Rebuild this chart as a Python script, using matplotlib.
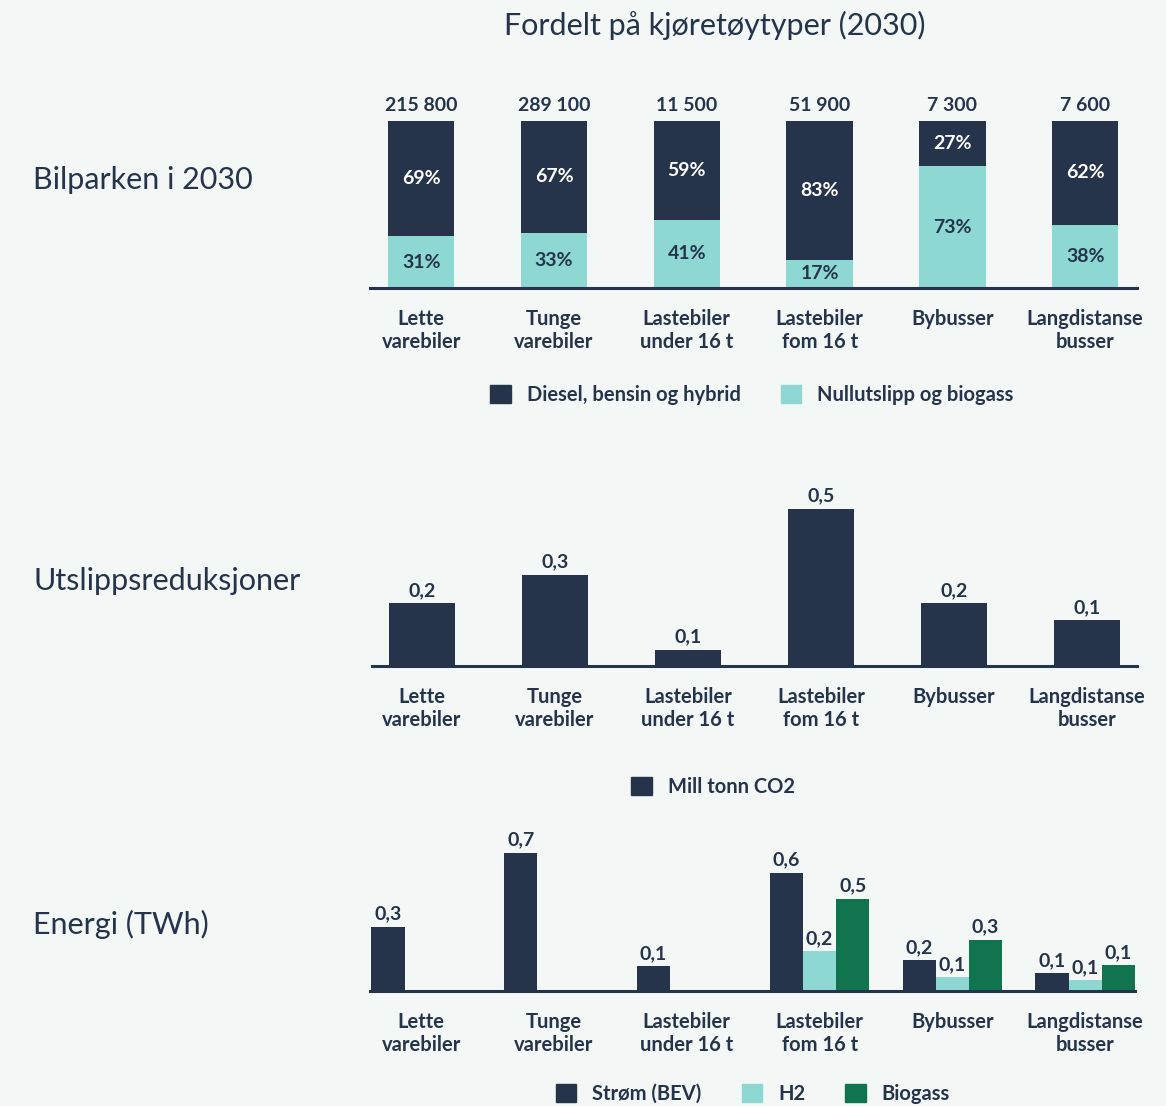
import matplotlib.pyplot as plt
from matplotlib.patches import Patch

# colours
BG = "#f3f8f7"
NAVY = "#25344b"
TEAL = "#8dd8d3"
GREEN = "#10744f"

categories = ["Lette\nvarebiler", "Tunge\nvarebiler", "Lastebiler\nunder 16 t",
              "Lastebiler\nfom 16 t", "Bybusser", "Langdistanse\nbusser"]

# panel 1: vehicle fleet 2030
fleet_totals = ["215 800", "289 100", "11 500", "51 900", "7 300", "7 600"]
share_fossil = [69, 67, 59, 83, 27, 62]
share_zero = [31, 33, 41, 17, 73, 38]

# panel 2: emission reductions (mill tonn CO2)
emission_cut = [0.20, 0.29, 0.052, 0.50, 0.20, 0.146]

# panel 3: energy (TWh)
energy_bev = [0.325, 0.70, 0.127, 0.60, 0.157, 0.091]
energy_h2 = [0, 0, 0, 0.203, 0.071, 0.056]
energy_bio = [0, 0, 0, 0.467, 0.259, 0.132]

plt.rcParams["font.family"] = ["Lato", "DejaVu Sans"]

W, H = 1166, 1106
WEIGHT = "bold"
fig = plt.figure(figsize=(W / 100, H / 100), dpi=100)
fig.patch.set_facecolor(BG)


def px_axes(left, right, top, bottom):
    return fig.add_axes([left / W, 1 - bottom / H, (right - left) / W, (bottom - top) / H])


def style(ax):
    ax.set_facecolor(BG)
    for s in ["top", "right", "left"]:
        ax.spines[s].set_visible(False)
    ax.spines["bottom"].set_color(NAVY)
    ax.spines["bottom"].set_linewidth(2.2)
    ax.set_yticks([])
    ax.set_xticks(range(len(categories)))
    ax.set_xticklabels(categories, fontsize=14.5, color=NAVY, fontweight=WEIGHT,
                       linespacing=1.18)
    ax.tick_params(axis="x", length=0, pad=15)


def fmt(v):
    return f"{v:.1f}".replace(".", ",")


x = list(range(len(categories)))

# ---- panel 1
ax1 = px_axes(370, 1137, 121, 288)
style(ax1)
ax1.bar(x, share_zero, width=0.5, color=TEAL)
ax1.bar(x, share_fossil, width=0.5, bottom=share_zero, color=NAVY)
for i in x:
    ax1.text(i, share_zero[i] / 2, f"{share_zero[i]}%", ha="center", va="center",
             fontsize=14, color=NAVY, fontweight=WEIGHT)
    ax1.text(i, share_zero[i] + share_fossil[i] / 2, f"{share_fossil[i]}%", ha="center",
             va="center", fontsize=14, color="white", fontweight=WEIGHT)
    ax1.annotate(fleet_totals[i], (i, 100), xytext=(0, 5), textcoords="offset points",
                 ha="center", va="bottom", fontsize=14, color=NAVY, fontweight=WEIGHT)
ax1.set_xlim(-0.385, 5.39)
ax1.set_ylim(0, 100)

# ---- panel 2
ax2 = px_axes(372, 1137, 493, 666)
style(ax2)
ax2.bar(x, emission_cut, width=0.5, color=NAVY)
for i in x:
    ax2.annotate(fmt(emission_cut[i]), (i, emission_cut[i]), xytext=(0, 3),
                 textcoords="offset points", ha="center", va="bottom",
                 fontsize=14, color=NAVY, fontweight=WEIGHT)
ax2.set_xlim(-0.376, 5.376)
ax2.set_ylim(0, 0.55)

# ---- panel 3
ax3 = px_axes(370, 1135, 843, 991)
style(ax3)
bw = 0.25
for vals, off, col in [(energy_bev, -bw, NAVY), (energy_h2, 0, TEAL), (energy_bio, bw, GREEN)]:
    ax3.bar([i + off for i in x], vals, width=bw, color=col)
    for i in x:
        if vals[i] > 0:
            ax3.annotate(fmt(vals[i]), (i + off, vals[i]), xytext=(0, 3),
                         textcoords="offset points", ha="center", va="bottom",
                         fontsize=14, color=NAVY, fontweight=WEIGHT)
ax3.set_xlim(-0.385, 5.375)
ax3.set_ylim(0, 0.75)

# ---- texts
fig.text(715 / W, 1 - 25 / H, "Fordelt på kjøretøytyper (2030)", ha="center", va="center",
         fontsize=22, color=NAVY)
for label, ypx in [("Bilparken i 2030", 180), ("Utslippsreduksjoner", 581), ("Energi (TWh)", 924)]:
    fig.text(33 / W, 1 - ypx / H, label, ha="left", va="center", fontsize=22, color=NAVY)

# ---- legends
leg_kw = dict(loc="center", frameon=False, handlelength=1.0, handleheight=1.0,
              handletextpad=0.8, columnspacing=2.0, borderaxespad=0,
              prop={"size": 14.5, "weight": WEIGHT}, labelcolor=NAVY)
fig.legend([Patch(color=NAVY), Patch(color=TEAL)],
           ["Diesel, bensin og hybrid", "Nullutslipp og biogass"],
           bbox_to_anchor=(752 / W, 1 - 395 / H), ncol=2, **leg_kw)
fig.legend([Patch(color=NAVY)], ["Mill tonn CO2"],
           bbox_to_anchor=(713 / W, 1 - 787 / H), ncol=1, **leg_kw)
fig.legend([Patch(color=NAVY), Patch(color=TEAL), Patch(color=GREEN)],
           ["Strøm (BEV)", "H2", "Biogass"],
           bbox_to_anchor=(753 / W, 1 - 1094 / H), ncol=3, **leg_kw)

fig.savefig("out.png", dpi=100, facecolor=BG)
